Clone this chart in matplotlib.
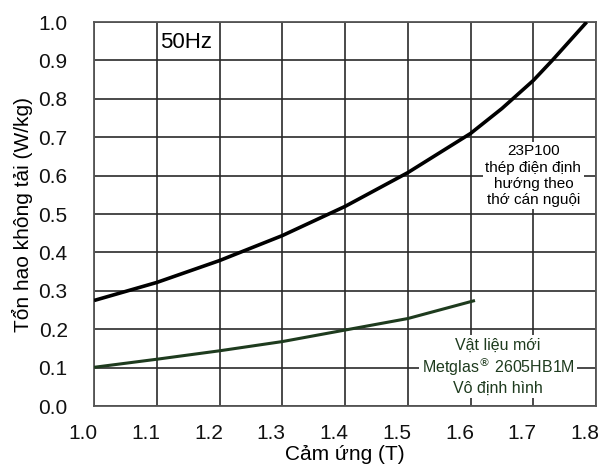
import matplotlib
matplotlib.use('Agg')
import matplotlib.pyplot as plt
import matplotlib.transforms as mtransforms

plt.rcParams['font.family'] = ['Liberation Sans', 'DejaVu Sans']

# values
b_steel = [1.0, 1.1, 1.2, 1.3, 1.4, 1.5, 1.6, 1.65, 1.7, 1.73, 1.785]
loss_steel = [0.275, 0.322, 0.379, 0.444, 0.52, 0.608, 0.71, 0.775, 0.848, 0.9, 1.0]

b_amorph = [1.0, 1.1, 1.2, 1.3, 1.4, 1.5, 1.607]
loss_amorph = [0.101, 0.122, 0.144, 0.168, 0.198, 0.228, 0.275]

xticks = [1.0, 1.1, 1.2, 1.3, 1.4, 1.5, 1.6, 1.7, 1.8]
yticks = [0.0, 0.1, 0.2, 0.3, 0.4, 0.5, 0.6, 0.7, 0.8, 0.9, 1.0]

steel_label = '23P100\nthép điện định\nhướng theo\nthớ cán nguội'
amorph_label = 'Vật liệu mới\nMetglas$^{®}$ 2605HB1M\nVô định hình'

green = '#1e3b1e'

fig = plt.figure(figsize=(6.07, 4.70), dpi=100)
ax = fig.add_axes([0.155, 0.136, 0.827, 0.817])

ax.plot(b_steel, loss_steel, color='black', lw=2.6, solid_capstyle='butt', zorder=3)
ax.plot(b_amorph, loss_amorph, color=green, lw=2.2, solid_capstyle='butt', zorder=3)

ax.set_xlim(1.0, 1.8)
ax.set_ylim(0.0, 1.0)
ax.set_xticks(xticks)
ax.set_yticks(yticks)
ax.set_xticklabels(['%.1f' % v for v in xticks])
ax.set_yticklabels(['%.1f' % v for v in yticks])
ax.grid(True, color='#2a2a2a', lw=1.2)
ax.set_axisbelow(True)
ax.tick_params(length=0, labelsize=15, colors='#111111')
ax.tick_params(axis='y', pad=19)
ax.tick_params(axis='x', pad=13)
for s in ax.spines.values():
    s.set_color('#555555')
    s.set_linewidth(1.3)

# x labels sit a little left of their grid lines in the original
shift = mtransforms.ScaledTranslation(-0.11, 0, fig.dpi_scale_trans)
for lab in ax.get_xticklabels():
    lab.set_transform(lab.get_transform() + shift)

ax.set_xlabel('Cảm ứng (T)', fontsize=15, labelpad=1)
ax.set_ylabel('Tổn hao không tải (W/kg)', fontsize=15, labelpad=4)

ax.text(1.105, 0.948, '50Hz', fontsize=16, ha='left', va='center')

box = dict(boxstyle='square,pad=0.15', fc='white', ec='none')
ax.text(1.70, 0.60, steel_label, fontsize=11, ha='center', va='center',
        multialignment='center', linespacing=1.2, bbox=box, zorder=4)
ax.text(1.644, 0.103, amorph_label, fontsize=11.5, ha='center', va='center',
        multialignment='center', linespacing=1.2, color=green, bbox=box, zorder=4)

fig.savefig('out.png', dpi=100)
